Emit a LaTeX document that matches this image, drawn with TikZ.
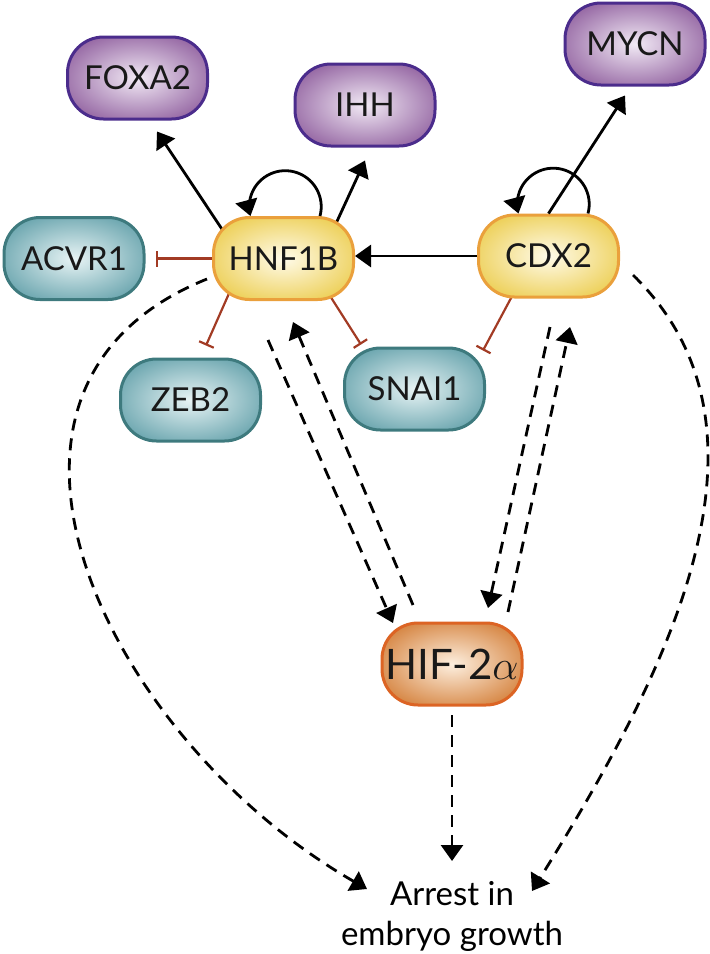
\documentclass[tikz,border=0pt]{standalone}
\usepackage{fontspec}
\setmainfont{Lato}
\usetikzlibrary{arrows.meta,calc}

\definecolor{purpin}{HTML}{F2EAF5}
\definecolor{purpout}{HTML}{8C5A9B}
\definecolor{purpline}{HTML}{4B2C8C}
\definecolor{tealin}{HTML}{E8F4F5}
\definecolor{tealout}{HTML}{5F9EA8}
\definecolor{tealline}{HTML}{3E7A7E}
\definecolor{yellin}{HTML}{FFFBEA}
\definecolor{yellout}{HTML}{EBCB48}
\definecolor{yellline}{HTML}{EAA03C}
\definecolor{orin}{HTML}{FDEFDF}
\definecolor{orout}{HTML}{D27B33}
\definecolor{orline}{HTML}{DC6424}
\definecolor{inhred}{HTML}{A23B24}

\pgfdeclareradialshading{purpglow}{\pgfpoint{0bp}{0bp}}{color(0bp)=(purpin); color(32bp)=(purpout); color(50bp)=(purpout)}
\pgfdeclareradialshading{tealglow}{\pgfpoint{0bp}{0bp}}{color(0bp)=(tealin); color(32bp)=(tealout); color(50bp)=(tealout)}
\pgfdeclareradialshading{yellglow}{\pgfpoint{0bp}{0bp}}{color(0bp)=(yellin); color(32bp)=(yellout); color(50bp)=(yellout)}
\pgfdeclareradialshading{orglow}{\pgfpoint{0bp}{0bp}}{color(0bp)=(orin); color(32bp)=(orout); color(50bp)=(orout)}

\pgfdeclarelayer{bg}
\pgfsetlayers{bg,main}

\tikzstyle{genebox} = [draw, line width=1.5pt, rounded corners=18pt, minimum width=70pt, minimum height=41pt, inner sep=0pt, text=black!90, font=\fontsize{16.5pt}{19pt}\selectfont]
\tikzstyle{target} = [genebox, draw=purpline, shading=purpglow]
\tikzstyle{repressed} = [genebox, draw=tealline, shading=tealglow]
\tikzstyle{factor} = [genebox, draw=yellline, shading=yellglow]
\tikzstyle{hypoxia} = [genebox, draw=orline, shading=orglow, font=\fontsize{21pt}{24pt}\selectfont]
\tikzstyle{act} = [line width=1.4pt, -{Triangle[length=8pt,width=11pt]}]
\tikzstyle{dsh} = [act, dash pattern=on 6pt off 4pt]
\tikzstyle{inh} = [draw=inhred, line width=1.1pt, -{Bar[width=8pt]}]

\begin{document}
\begin{tikzpicture}[x=0.5pt,y=0.5pt]
			\useasboundingbox (0,0) rectangle (709,-954);
			\node[target] (foxa) at (137.5,-78) {FOXA2};
			\node[target] (ihh) at (365,-105) {IHH};
			\node[target] (mycn) at (635,-44) {MYCN};
			\node[repressed] (acvr) at (74,-258.5) {ACVR1};
			\node[factor] (hnf) at (283.5,-258.5) {HNF1B};
			\node[factor] (cdx) at (548.5,-256) {CDX2};
			\node[repressed] (zeb) at (190.5,-400) {ZEB2};
			\node[repressed] (snai) at (414.5,-389) {SNAI1};
			\node[hypoxia] (hif) at (452,-664) {HIF-2$\alpha$};
			\node[align=center, anchor=north, inner sep=0pt, font=\fontsize{16.5pt}{20pt}\selectfont] (arrest) at (452,-881) {Arrest in\\embryo growth};
			\begin{pgfonlayer}{bg}
				\draw[act] ($(hnf.center)+(-42,0)$) -- ($(foxa.south)+(19.5,-11)$);
				\draw[act] ($(hnf.center)+(46.5,22)$) -- ($(ihh.south)+(0,-13)$);
				\draw[inh] ($(hnf.center)+(-47,-18)$) -- ($(zeb.north)+(15.5,12)$);
				\draw[inh] ($(hnf.center)+(37,-22.5)$) -- ($(snai.north)+(-53.5,2)$);
				\draw[inh] ($(cdx.center)+(-30.5,-29)$) -- ($(snai.north)+(68.5,-4)$);
			\end{pgfonlayer}
			\draw[inh] (hnf.west) -- ($(acvr.east)+(10,0)$);
			\draw[act] (cdx.west) -- (cdx.west -| hnf.east);
			\draw[act] (cdx.north) -- ($(mycn.south)+(-10,-9)$);
			\draw[act] ($(hnf.north)+(36.5,0)$) arc[start angle=-15,end angle=195,radius=18pt];
			\draw[act] ($(cdx.north)+(39.5,0)$) arc[start angle=-15,end angle=195,radius=18pt];
			\draw[dsh] ($(hnf.south west)+(-5,22)$) .. controls +(-270,-108.5) and +(-261,150) .. ($(arrest.north)+(-85,-8)$);
			\draw[dsh] ($(cdx.east)+(13,-19)$) .. controls +(161,-157) and +(132,212) .. ($(arrest.north)+(80,-10)$);
			\draw[dsh] ($(hif.south)+(0,-8.5)$) -- ($(arrest.north)+(0,20)$);
			\draw[dsh] ($(hif.north)+(-39,16.5)$) -- ($(hnf.south)+(9.5,-21)$);
			\draw[dsh] ($(hnf.south)+(-15.5,-39)$) -- ($(hif.north)+(-59,-1.5)$);
			\draw[dsh] ($(hif.north)+(56,9.5)$) -- ($(cdx.south)+(21.5,-28.5)$);
			\draw[dsh] ($(cdx.south)+(1.5,-28.5)$) -- ($(hif.north)+(36,13.5)$);
		\end{tikzpicture}
\end{document}
